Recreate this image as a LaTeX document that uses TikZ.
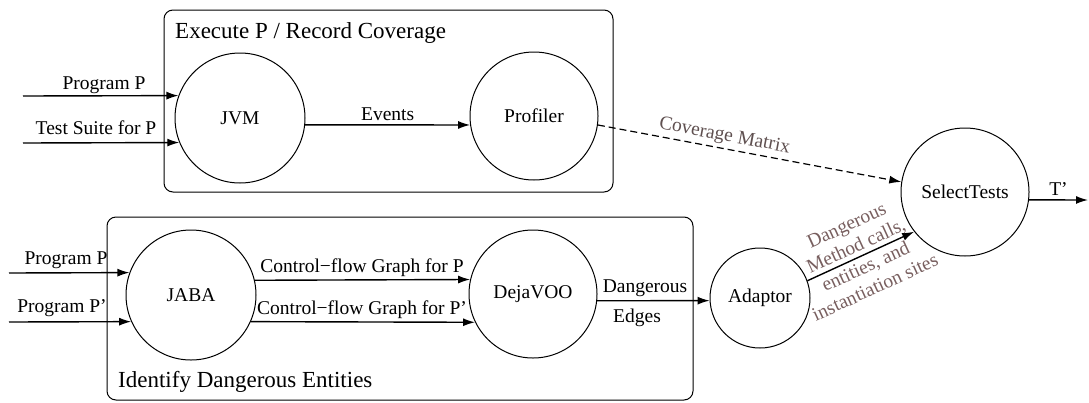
\documentclass[tikz,border=0pt]{standalone}
\usepackage{fontspec}
\setmainfont{Liberation Serif}
\usetikzlibrary{arrows.meta}
\definecolor{lblgray}{RGB}{95,80,80}
\definecolor{pinkgray}{RGB}{120,95,95}
\begin{document}
\begin{tikzpicture}[x=1pt,y=-1pt,
  proc/.style={circle,draw,line width=1pt,minimum size=#1,inner sep=0pt,font=\fontsize{19.5}{22}\selectfont},
  grp/.style={draw,rounded corners=9pt,line width=1pt},
  arr/.style={line width=1.4pt,-{Latex[length=12pt,width=8pt]}},
  lbl/.style={font=\fontsize{19.5}{22}\selectfont,inner sep=1pt},
  ttl/.style={font=\fontsize{23}{26}\selectfont,anchor=west,inner sep=0pt}]
\useasboundingbox (0,0) rectangle (1089,402);

% group boxes
\draw[grp] (164,10) rectangle (613,192);
\draw[grp] (107,217) rectangle (693,400);
\node[ttl] (t1) at (175,33) {Execute P / Record Coverage};
\node[ttl] (t2) at (118,382) {Identify Dangerous Entities};

% processes
\node[proc=130pt] (JVM) at (240,118) {JVM};
\node[proc=128pt] (Profiler) at (534,116) {Profiler};
\node[proc=128pt] (SelectTests) at (965,192) {SelectTests};
\node[proc=130pt] (JABA) at (191,295) {JABA};
\node[proc=128pt] (DejaVOO) at (533,294) {DejaVOO};
\node[proc=100pt] (Adaptor) at (760,298) {Adaptor};

% free ends
\coordinate (inP) at (23,96);
\coordinate (inT) at (23,143);
\coordinate (inP2) at (9,273);
\coordinate (inPp) at (9,322);
\coordinate (outT) at (1088,200);

% inputs to JVM
\draw[arr] (inP) -- (JVM.160.2);
\draw[arr] (inT) -- (JVM.202.6);
\node[lbl] (lP) at (104,85) {Program P};
\node[lbl] (lT) at (96,128) {Test Suite for P};

% JVM -> Profiler
\draw[arr] (JVM.-6.2) -- node[lbl,above=3pt] {Events} (Profiler.188.1);

% Profiler -> SelectTests
\draw[line width=1.2pt,dash pattern=on 7pt off 4pt,-{Latex[length=12pt,width=8pt]}]
  (Profiler.-8.1) -- node[pos=0.41,sloped,above=2pt,lbl,text=lblgray] {Coverage Matrix} (SelectTests.171);

% SelectTests output
\draw[arr] (SelectTests.-7.2) -- node[lbl,above=3pt] {T'} (outT);

% inputs to JABA
\draw[arr] (inP2) -- (JABA.160.2);
\draw[arr] (inPp) -- (JABA.204.5);
\node[lbl] (lP2) at (66,260) {Program P};
\node[lbl] (lPp) at (62,308) {Program P'};

% JABA -> DejaVOO
\draw[arr] (JABA.13.3) -- (DejaVOO.167.4);
\draw[arr] (JABA.-24.5) -- (DejaVOO.206);
\node[lbl] (c1) at (362,268) {Control−flow Graph for P};
\node[lbl] (c2) at (362,310) {Control−flow Graph for P'};

% DejaVOO -> Adaptor
\draw[arr] (DejaVOO.-6.3) -- (Adaptor.183.4);
\node[lbl] (d1) at (645,288) {Dangerous};
\node[lbl] (d2) at (637,318) {Edges};

% Adaptor -> SelectTests
\draw[arr] (Adaptor.20.6) -- node[sloped,lbl,align=center,text=pinkgray,font=\fontsize{19.5}{22.8}\selectfont]
  {Dangerous\\Method calls,\\entities, and\\instantiation sites} (SelectTests.218);
\end{tikzpicture}
\end{document}
